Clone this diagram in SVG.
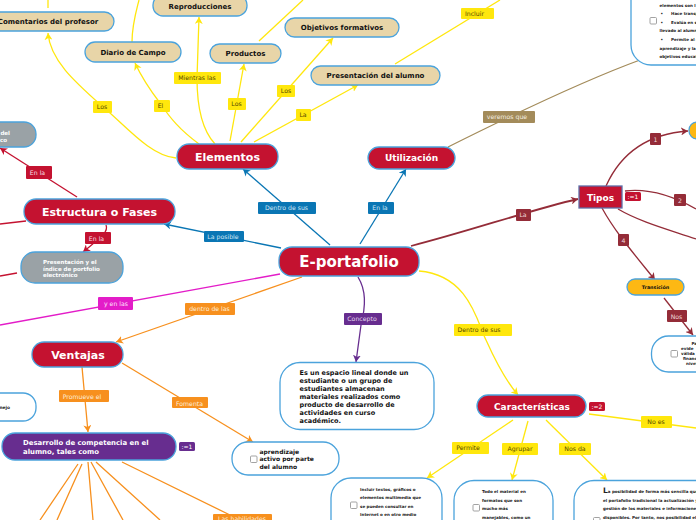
<svg xmlns="http://www.w3.org/2000/svg" width="696" height="520" viewBox="0 0 696 520">
<style>
text{font-family:"DejaVu Sans",Verdana,sans-serif}
.n{stroke:#4ba3dc;stroke-width:1.3}
.tan{fill:#e8d5a8}.red{fill:#c41230}.gray{fill:#9aa2a6}.pur{fill:#672d8f}.amb{fill:#fdb813}.wh{fill:#fff}
.tt{font-size:7px;font-weight:700;fill:#111;text-anchor:middle}
.big{font-weight:700;fill:#fff;text-anchor:middle}
.sm{font-size:4.050px;font-weight:700;fill:#222}
.md{font-size:6.500px;font-weight:700;fill:#111}
.ap{font-size:6px;font-weight:700;fill:#111}
.gt{font-size:5.500px;font-weight:700;fill:#fff}
.dv{font-size:6.900px;font-weight:700;fill:#fff}
.c path{fill:none;stroke-width:1.3}
.y{stroke:#ffe70d}.bl{stroke:#0a76b4}.dr{stroke:#942c38}.rd{stroke:#c41230}.or{stroke:#f7901e}.mg{stroke:#e31cc8}.br{stroke:#a38b5a}.pp{stroke:#672d8f}
.l text{font-size:6.200px;text-anchor:middle}
.cb{fill:#fff;stroke:#999;stroke-width:.9}
</style>
<defs>
<marker id="ay" markerWidth="9" markerHeight="8" refX="7" refY="4" orient="auto" markerUnits="userSpaceOnUse"><path d="M0,0L7,4L0,8L2,4z" fill="#ffe70d"/></marker>
<marker id="ab" markerWidth="9" markerHeight="8" refX="7" refY="4" orient="auto" markerUnits="userSpaceOnUse"><path d="M0,0L7,4L0,8L2,4z" fill="#0a76b4"/></marker>
<marker id="ad" markerWidth="9" markerHeight="8" refX="7" refY="4" orient="auto" markerUnits="userSpaceOnUse"><path d="M0,0L7,4L0,8L2,4z" fill="#942c38"/></marker>
<marker id="ar" markerWidth="9" markerHeight="8" refX="7" refY="4" orient="auto" markerUnits="userSpaceOnUse"><path d="M0,0L7,4L0,8L2,4z" fill="#c41230"/></marker>
<marker id="ao" markerWidth="9" markerHeight="8" refX="7" refY="4" orient="auto" markerUnits="userSpaceOnUse"><path d="M0,0L7,4L0,8L2,4z" fill="#f7901e"/></marker>
<marker id="ap" markerWidth="9" markerHeight="8" refX="7" refY="4" orient="auto" markerUnits="userSpaceOnUse"><path d="M0,0L7,4L0,8L2,4z" fill="#672d8f"/></marker>
</defs>
<g id="connectors" class="c">
<path class="y" d="M176,158C150,156 125,125 102,106C75,82 50,60 48,33" marker-end="url(#ay)"/>
<path class="y" d="M199,144C180,130 170,118 160,103C150,90 142,78 135,63" marker-end="url(#ay)"/>
<path class="y" d="M132,42C132,25 136,12 139,0"/>
<path class="y" d="M48,8V0"/>
<path class="y" d="M215,144C200,128 197,100 197,78L199,17" marker-end="url(#ay)"/>
<path class="y" d="M230,141L244,64" marker-end="url(#ay)"/>
<path class="y" d="M241,142L333,38" marker-end="url(#ay)"/>
<path class="y" d="M254,142L358,85" marker-end="url(#ay)"/>
<path class="y" d="M259,41L303,0"/>
<path class="y" d="M395,64L500,0"/>
<path class="bl" d="M330,245L243,169" marker-end="url(#ab)"/>
<path class="bl" d="M281,248L164,224" marker-end="url(#ab)"/>
<path class="bl" d="M360,244L406,169" marker-end="url(#ab)"/>
<path class="br" d="M448,147C510,116 580,82 640,60"/>
<path class="dr" style="stroke-width:1.8" d="M411,246C470,231 530,210 578,199" marker-end="url(#ad)"/>
<path class="dr" d="M606,186C620,155 645,134 688,131" marker-end="url(#ad)"/>
<path class="dr" d="M625,191C650,188 675,197 696,209"/>
<path class="dr" d="M618,209C640,222 670,230 696,239"/>
<path class="dr" d="M602,208C615,232 635,255 655,280" marker-end="url(#ad)"/>
<path class="dr" d="M664,298L693,335" marker-end="url(#ad)"/>
<path class="rd" d="M77,197L0,148" marker-end="url(#ar)"/>
<path class="rd" d="M26,221L0,224"/>
<path class="rd" d="M17,273L0,276"/>
<path class="rd" d="M106,225C109,232 100,238 83,252" marker-end="url(#ar)"/>
<path class="mg" d="M280,274L0,325"/>
<path class="or" d="M302,277L116,342" marker-end="url(#ao)"/>
<path class="or" d="M82,367L88,432" marker-end="url(#ao)"/>
<path class="or" d="M122,363L253,442" marker-end="url(#ao)"/>
<path class="or" d="M78,464L40,520M82,464L57,520M88,462L93,520M91,462L123,520M96,462L160,520M122,462L232,516"/>
<path class="pp" d="M358,277C366,290 366,305 361,325L356,362" marker-end="url(#ap)"/>
<path class="y" d="M419,271C470,275 478,325 486,340C495,360 505,380 518,395" marker-end="url(#ay)"/>
<path class="y" d="M513,420L427,478" marker-end="url(#ay)"/>
<path class="y" d="M528,421L512,480" marker-end="url(#ay)"/>
<path class="y" d="M546,420L607,480" marker-end="url(#ay)"/>
<path class="y" d="M589,414L696,428"/>
</g>
<g id="link-labels" class="l">
<g fill="#ffe70d"><rect x="93" y="101" width="19" height="12" rx="1"/><rect x="154" y="100" width="16" height="12" rx="1"/><rect x="174" y="72" width="47" height="12" rx="1"/><rect x="228" y="98" width="18" height="12" rx="1"/><rect x="277" y="85" width="18" height="12" rx="1"/><rect x="296" y="109" width="15" height="12" rx="1"/><rect x="461" y="8" width="33" height="11" rx="1"/><rect x="454" y="324" width="58" height="12" rx="1"/><rect x="452" y="442" width="37" height="12" rx="1"/><rect x="502" y="443" width="36" height="12" rx="1"/><rect x="559" y="443" width="32" height="12" rx="1"/><rect x="641" y="416" width="31" height="12" rx="1"/></g>
<g fill="#554a00"><text x="102" y="109">Los</text><text x="160.500" y="108">El</text><text x="197" y="80">Mientras las</text><text x="236.500" y="106">Los</text><text x="286" y="93">Los</text><text x="303" y="117">La</text><text x="474.500" y="16">Incluir</text><text x="479" y="332">Dentro de sus</text><text x="468" y="450">Permite</text><text x="520" y="451">Agrupar</text><text x="575" y="451">Nos da</text><text x="656" y="424">No es</text></g>
<g fill="#0a76b4"><rect x="258" y="202" width="58" height="12" rx="1"/><rect x="204" y="231" width="40" height="11" rx="1"/><rect x="368" y="202" width="26" height="12" rx="1"/></g>
<g fill="#cfe6f4"><text x="286.500" y="210">Dentro de sus</text><text x="223" y="239">La posible</text><text x="380" y="210">En la</text></g>
<rect x="483" y="111" width="52" height="12" rx="1" fill="#a38b5a"/><text x="507" y="119" fill="#f3eee0">veremos que</text>
<g fill="#942c38"><rect x="516" y="209" width="15" height="12" rx="1"/><rect x="650" y="133" width="11" height="12" rx="1"/><rect x="674" y="194" width="12" height="12" rx="1"/><rect x="618" y="234" width="11" height="12" rx="1"/><rect x="667" y="310" width="20" height="12" rx="1"/></g>
<g fill="#f0d8da"><text x="523" y="217">La</text><text x="655.500" y="141.500">1</text><text x="680" y="202.500">2</text><text x="623.500" y="242.500">4</text><text x="676.500" y="318.500">Nos</text></g>
<g fill="#c41230"><rect x="26" y="166" width="26" height="13" rx="1"/><rect x="85" y="232" width="26" height="12" rx="1"/></g>
<g fill="#f9dfe3"><text x="37.500" y="175">En la</text><text x="96.500" y="240.500">En la</text></g>
<rect x="98" y="297" width="35" height="13" rx="1" fill="#e31cc8"/><text x="116" y="306" fill="#fde0fa">y en las</text>
<g fill="#f7901e"><rect x="185" y="303" width="50" height="12" rx="1"/><rect x="59" y="390" width="50" height="12" rx="1"/><rect x="172" y="397" width="36" height="11" rx="1"/><rect x="213" y="514" width="59" height="12" rx="1"/></g>
<g fill="#fdeeda"><text x="209.500" y="311">dentro de las</text><text x="82" y="398.500">Promueve el</text><text x="189.500" y="405.500">Fomenta</text><text x="242" y="521">Las habilidades</text></g>
<rect x="344" y="313" width="38" height="12" rx="1" fill="#672d8f"/><text x="362" y="321" fill="#e4d8ee">Concepto</text>
</g>
<g id="comentarios"><rect class="n tan" x="-18" y="12" width="132" height="19" rx="9.500"/><text class="tt" x="48" y="24">Comentarios del profesor</text></g>
<g id="reproducciones"><rect class="n tan" x="153" y="-5" width="94" height="21" rx="10"/><text class="tt" x="200" y="9">Reproducciones</text></g>
<g id="diario"><rect class="n tan" x="85" y="42" width="96" height="20" rx="10"/><text class="tt" x="133" y="55">Diario de Campo</text></g>
<g id="productos"><rect class="n tan" x="210" y="44" width="71" height="19" rx="9.500"/><text class="tt" x="245.500" y="56">Productos</text></g>
<g id="objetivos"><rect class="n tan" x="285" y="18" width="114" height="19" rx="9.500"/><text class="tt" x="342" y="30">Objetivos formativos</text></g>
<g id="presentacion"><rect class="n tan" x="311" y="66" width="129" height="19" rx="9.500"/><text class="tt" x="375.500" y="78">Presentación del alumno</text></g>
<g id="elementos"><rect class="n red" x="177" y="144" width="101" height="25" rx="12"/><text class="big" x="227.500" y="161" font-size="11">Elementos</text></g>
<g id="utilizacion"><rect class="n red" x="368" y="147" width="87" height="22" rx="11"/><text class="big" x="411.500" y="161" font-size="9">Utilización</text></g>
<g id="tipos"><rect x="579" y="186" width="43" height="22" fill="#c41230" stroke="#5f6fa8" stroke-width="1.300"/><text class="big" x="600.500" y="200.500" font-size="9">Tipos</text></g>
<g id="badge-tipos"><rect x="625" y="192" width="16" height="9" rx="1.500" fill="#c41230"/><text x="633" y="199" font-size="6" fill="#fff" text-anchor="middle">:=1</text></g>
<g id="eportafolio"><rect class="n red" x="279" y="247" width="140" height="29" rx="13"/><text class="big" x="349" y="267" font-size="15">E-portafolio</text></g>
<g id="estructura"><rect class="n red" x="24" y="199" width="151" height="25" rx="12"/><text class="big" x="99.500" y="216" font-size="11">Estructura o Fases</text></g>
<g id="gris-superior"><rect class="n gray" x="-40" y="122" width="76" height="25" rx="12"/><text class="gt" x="10" y="135" text-anchor="end">del</text><text class="gt" x="7" y="142" text-anchor="end">co</text></g>
<g id="indice"><rect class="n gray" x="21" y="252" width="102" height="31" rx="14"/><text class="gt" x="43" y="264">Presentación y el</text><text class="gt" x="43" y="270.500">índice de portfolio</text><text class="gt" x="43" y="277">electrónico</text></g>
<g id="ventajas"><rect class="n red" x="32" y="342" width="91" height="25" rx="12"/><text class="big" x="78" y="359" font-size="11">Ventajas</text></g>
<g id="manejo"><rect class="n wh" x="-40" y="393" width="76" height="28" rx="13"/><text x="10" y="409" font-size="4.400" font-weight="700" fill="#222" text-anchor="end">nejo</text></g>
<g id="desarrollo"><rect class="n pur" x="2" y="433" width="174" height="27" rx="13"/><text class="dv" x="23" y="445">Desarrollo de competencia en el</text><text class="dv" x="23" y="454">alumno, tales como</text></g>
<g id="badge-desarrollo"><rect x="179" y="442" width="16" height="9" rx="1.500" fill="#672d8f"/><text x="187" y="449" font-size="6" fill="#fff" text-anchor="middle">:=1</text></g>
<g id="aprendizaje"><rect class="n wh" x="232" y="442" width="107" height="33" rx="16"/><rect class="cb" x="250.500" y="456" width="6.500" height="6.500" rx="1"/><text class="ap" x="259.500" y="454">aprendizaje</text><text class="ap" x="259.500" y="461">activo por parte</text><text class="ap" x="259.500" y="469">del alumno</text></g>
<g id="definicion"><rect class="n wh" x="280" y="362.500" width="154" height="67" rx="20"/><g class="md"><text x="299.500" y="375">Es un espacio lineal donde un</text><text x="299.500" y="383">estudiante o un grupo de</text><text x="299.500" y="391">estudiantes almacenan</text><text x="299.500" y="399">materiales realizados como</text><text x="299.500" y="407">producto de desarrollo de</text><text x="299.500" y="415">actividades en curso</text><text x="299.500" y="423">académico.</text></g></g>
<g id="caracteristicas"><rect class="n red" x="477" y="395" width="109" height="22" rx="11"/><text class="big" x="532" y="410" font-size="9">Características</text></g>
<g id="badge-caracteristicas"><rect x="589" y="402" width="16" height="9" rx="1.500" fill="#c41230"/><text x="597" y="409" font-size="6" fill="#fff" text-anchor="middle">:=2</text></g>
<g id="incluir"><rect class="n wh" x="331" y="478" width="111" height="70" rx="20"/><rect class="cb" x="350.500" y="502" width="6.500" height="6.500" rx="1"/><g class="sm"><text x="360" y="491">Incluir textos, gráficos o</text><text x="360" y="499">elementos multimedia que</text><text x="360" y="508">se pueden consultar en</text><text x="360" y="516">Internet o en otro medio</text></g></g>
<g id="todo"><rect class="n wh" x="454" y="480.500" width="99" height="70" rx="20"/><rect class="cb" x="473" y="504.500" width="6.500" height="6.500" rx="1"/><g class="sm"><text x="482" y="493">Todo el material en</text><text x="482" y="502">formatos que son</text><text x="482" y="510">mucho más</text><text x="482" y="519">manejables, como un</text></g></g>
<g id="posibilidad"><rect class="n wh" x="574" y="480.500" width="160" height="70" rx="20"/><rect class="cb" x="593.500" y="517.500" width="6.500" height="6.500" rx="1"/><g class="sm"><text x="603" y="493"><tspan font-size="7.500">L</tspan>a posibilidad de forma más sencilla que</text><text x="603" y="501.500">el portafolio tradicional la actualización y</text><text x="603" y="510">gestión de los materiales e informaciones</text><text x="603" y="518.500">disponibles. Por tanto, nos posibilidad el</text></g></g>
<g id="descripcion"><rect class="n wh" x="631" y="-40" width="110" height="105" rx="20"/><rect class="cb" x="650" y="17.500" width="6.500" height="6.500" rx="1"/><g class="sm"><text x="659.500" y="7">elementos son l</text><text x="660.500" y="15">•</text><text x="671" y="15">Hace transp</text><text x="660.500" y="24">•</text><text x="671" y="24">Evalúa en s</text><text x="659.500" y="32">llevado al alumn</text><text x="660.500" y="41">•</text><text x="671" y="41">Permite al e</text><text x="659.500" y="49.500">aprendizaje y la</text><text x="659.500" y="58">objetivos educat</text></g></g>
<g id="nodo-naranja"><rect class="n amb" x="689" y="122" width="40" height="17" rx="8"/></g>
<g id="transicion"><rect class="n amb" x="627" y="279" width="57" height="16" rx="8"/><text x="655.500" y="289" font-size="4.800" font-weight="700" fill="#111" text-anchor="middle">Transición</text></g>
<g id="evidencias"><rect class="n wh" x="651.500" y="336" width="90" height="36" rx="17"/><rect class="cb" x="671" y="350.500" width="6.500" height="6.500" rx="1"/><g class="sm"><text x="691.500" y="345">Pa</text><text x="681" y="350">evide</text><text x="681" y="355">válida</text><text x="683" y="360">financ</text><text x="686" y="365">nivel</text></g></g>
</svg>
